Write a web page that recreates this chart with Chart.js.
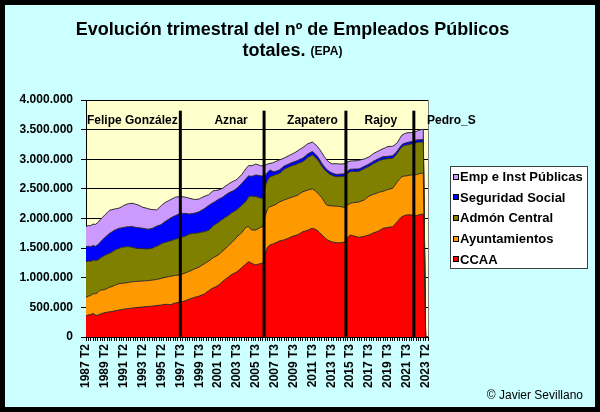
<!DOCTYPE html>
<html>
<head>
<meta charset="utf-8">
<script src="https://cdn.jsdelivr.net/npm/chart.js@4.4.0/dist/chart.umd.min.js"></script>
<style>
  html, body { margin: 0; padding: 0; background: #fff; }
  canvas { display: block; }
</style>
</head>
<body>
<canvas id="empleo-chart" width="600" height="412"></canvas>
<script>
// miles de personas, datos trimestrales EPA (146 trimestres, el ultimo vacio)
const ccaa = [
  354, 372, 380, 395, 370, 365, 385, 400, 410, 418,
  425, 430, 440, 446, 455, 462, 470, 474, 480, 486,
  490, 494, 500, 502, 505, 511, 515, 517, 520, 526,
  530, 536, 540, 548, 552, 548, 545, 565, 575, 582,
  590, 600, 610, 626, 640, 655, 670, 678, 690, 708,
  720, 752, 780, 806, 830, 848, 870, 905, 940, 972,
  1000, 1032, 1060, 1078, 1100, 1135, 1170, 1205, 1240, 1271,
  1250, 1230, 1215, 1228, 1240, 1244, 1413, 1520, 1553, 1566,
  1582, 1600, 1620, 1628, 1640, 1655, 1670, 1690, 1705, 1715,
  1730, 1755, 1778, 1788, 1800, 1820, 1835, 1822, 1800, 1765,
  1722, 1685, 1650, 1625, 1610, 1598, 1592, 1590, 1592, 1598,
  1610, 1680, 1722, 1712, 1700, 1688, 1683, 1692, 1700, 1712,
  1722, 1740, 1760, 1772, 1790, 1812, 1835, 1842, 1850, 1855,
  1862, 1900, 1947, 1995, 2031, 2050, 2059, 2062, 2059, 2052,
  2048, 2060, 2071, 2075, 0, 0
];
const ayuntamientos = [
  316, 318, 320, 335, 360, 385, 405, 395, 390, 402,
  415, 422, 430, 438, 445, 442, 440, 441, 440, 443,
  445, 442, 440, 441, 440, 437, 435, 438, 440, 441,
  440, 445, 450, 455, 458, 470, 480, 470, 465, 462,
  460, 465, 470, 470, 470, 475, 480, 486, 490, 500,
  510, 505, 500, 505, 510, 512, 514, 512, 510, 518,
  525, 532, 540, 565, 590, 590, 590, 605, 620, 590,
  560, 575, 591, 600, 610, 618, 637, 645, 647, 646,
  646, 652, 660, 667, 673, 672, 670, 667, 664, 667,
  670, 672, 675, 678, 680, 672, 665, 650, 636, 632,
  628, 600, 578, 592, 605, 612, 619, 614, 608, 593,
  579, 550, 535, 552, 570, 586, 601, 607, 613, 635,
  658, 654, 650, 650, 650, 638, 625, 632, 640, 644,
  648, 662, 675, 675, 675, 668, 661, 668, 676, 684,
  692, 692, 692, 690, 0, 0
];
const admonCentral = [
  601, 590, 575, 568, 560, 550, 540, 560, 580, 576,
  573, 582, 590, 595, 600, 605, 610, 608, 605, 590,
  575, 565, 555, 550, 545, 540, 535, 537, 540, 550,
  560, 572, 585, 588, 590, 595, 600, 605, 610, 620,
  630, 625, 620, 625, 630, 615, 600, 590, 580, 562,
  545, 532, 520, 530, 540, 543, 546, 543, 540, 528,
  515, 508, 500, 480, 460, 460, 460, 450, 440, 505,
  570, 567, 564, 530, 495, 483, 500, 485, 506, 506,
  507, 494, 480, 498, 517, 524, 530, 530, 531, 530,
  530, 518, 507, 528, 550, 560, 572, 568, 564, 547,
  530, 546, 562, 541, 520, 508, 495, 502, 510, 520,
  531, 532, 533, 529, 525, 520, 516, 522, 527, 513,
  500, 510, 520, 525, 530, 535, 540, 530, 520, 513,
  506, 492, 478, 492, 507, 513, 520, 521, 523, 532,
  540, 534, 527, 525, 0, 0
];
const seguridadSocial = [
  254, 252, 250, 245, 240, 255, 270, 285, 300, 318,
  337, 338, 340, 338, 335, 332, 330, 333, 337, 344,
  350, 350, 350, 348, 345, 340, 335, 332, 330, 335,
  340, 332, 325, 342, 360, 372, 385, 392, 400, 404,
  408, 396, 385, 360, 336, 338, 340, 348, 355, 370,
  385, 402, 420, 405, 390, 390, 390, 380, 370, 375,
  380, 370, 360, 360, 360, 365, 370, 375, 380, 355,
  330, 348, 365, 370, 375, 372, 170, 130, 113, 80,
  55, 58, 60, 58, 55, 52, 50, 52, 55, 55,
  55, 58, 60, 60, 60, 59, 58, 56, 55, 52,
  50, 45, 40, 40, 40, 40, 39, 40, 40, 40,
  40, 40, 40, 40, 40, 40, 40, 40, 40, 40,
  40, 40, 40, 42, 40, 43, 45, 42, 40, 42,
  44, 42, 40, 38, 37, 38, 40, 40, 39, 42,
  45, 42, 40, 40, 0, 0
];
const empInstPublicas = [
  340, 348, 355, 362, 370, 375, 380, 380, 380, 385,
  390, 375, 360, 350, 340, 355, 370, 380, 388, 392,
  395, 390, 385, 370, 355, 352, 350, 335, 320, 298,
  275, 298, 320, 320, 320, 315, 310, 310, 310, 298,
  287, 281, 275, 270, 264, 247, 230, 222, 215, 212,
  210, 195, 180, 190, 200, 180, 160, 155, 150, 150,
  150, 155, 160, 155, 150, 150, 150, 160, 170, 175,
  180, 182, 185, 178, 170, 175, 180, 140, 111, 140,
  165, 168, 170, 152, 135, 138, 140, 142, 145, 155,
  165, 172, 180, 175, 170, 165, 160, 162, 165, 172,
  180, 170, 160, 155, 150, 165, 180, 175, 170, 170,
  170, 155, 140, 140, 140, 142, 145, 135, 125, 122,
  120, 125, 130, 130, 130, 132, 135, 150, 165, 162,
  160, 150, 140, 150, 160, 162, 165, 159, 153, 149,
  145, 158, 170, 175, 0, 0
];
const tickLabels = [
  "1987 T2", "1989 T2", "1991 T2", "1993 T2", "1995 T2", "1997 T3", "1999 T3",
  "2001 T3", "2003 T3", "2005 T3", "2007 T3", "2009 T3", "2011 T3", "2013 T3",
  "2015 T3", "2017 T3", "2019 T3", "2021 T3", "2023 T2"
];
const seriesNames = ["CCAA", "Ayuntamientos", "Admón Central", "Seguridad Social", "Emp e Inst Públicas"];
const seriesColors = ["#FF0000", "#FF9900", "#808000", "#0000FF", "#CC99FF"];
const presidents = ["Felipe González", "Aznar", "Zapatero", "Rajoy", "Pedro_S"];
// trimestre (indice) en que cambia el gobierno
const govChanges = [40, 75.5, 110.2, 139];

const FONT = "'Liberation Sans', Arial, sans-serif";
Chart.defaults.font.family = FONT;
Chart.defaults.color = "#000";

const quarters = ccaa.map((_, i) => i);
const allSeries = [ccaa, ayuntamientos, admonCentral, seguridadSocial, empInstPublicas];

const fmt = v => String(v * 1000).replace(/\B(?=(\d{3})+(?!\d))/g, ".");

const decor = {
  id: "decor",
  beforeDraw(chart) {
    const { ctx, chartArea: a } = chart;
    ctx.save();
    ctx.fillStyle = "#CCFFFF";
    ctx.fillRect(0, 0, chart.width, chart.height);
    ctx.fillStyle = "#FFFFCC";
    ctx.fillRect(a.left, a.top, a.right - a.left, a.bottom - a.top);
    ctx.restore();
  },
  afterDraw(chart) {
    const { ctx, chartArea: a } = chart;
    const xs = chart.scales.x, ys = chart.scales.y;
    ctx.save();

    // plot border (right side)
    ctx.strokeStyle = "#808080";
    ctx.lineWidth = 1;
    ctx.beginPath();
    ctx.moveTo(a.right + 0.5, a.top);
    ctx.lineTo(a.right + 0.5, a.bottom);
    ctx.stroke();

    // president names
    ctx.fillStyle = "#000";
    ctx.font = "bold 12px " + FONT;
    ctx.textBaseline = "middle";
    const ty = ys.getPixelForValue(3645);
    ctx.textAlign = "left";
    ctx.fillText(presidents[0], a.left + 1, ty);
    ctx.textAlign = "center";
    ctx.fillText(presidents[1], xs.getPixelForValue(61.5), ty);
    ctx.fillText(presidents[2], xs.getPixelForValue(96), ty);
    ctx.fillText(presidents[3], xs.getPixelForValue(125), ty);
    ctx.textAlign = "left";
    ctx.fillText(presidents[4], xs.getPixelForValue(144.6), ty);

    // change of government lines
    ctx.strokeStyle = "#000";
    ctx.lineWidth = 3;
    govChanges.forEach(q => {
      const x = xs.getPixelForValue(q);
      ctx.beginPath();
      ctx.moveTo(x, ys.getPixelForValue(3820));
      ctx.lineTo(x, a.bottom);
      ctx.stroke();
    });

    // title
    ctx.fillStyle = "#000";
    ctx.textBaseline = "middle";
    ctx.textAlign = "center";
    ctx.font = "bold 18px " + FONT;
    ctx.fillText("Evolución trimestral del nº de Empleados Públicos", 292.5, 30);
    const t1 = "totales. ", t2 = "(EPA)";
    const w1 = ctx.measureText(t1).width;
    ctx.font = "bold 12px " + FONT;
    const w2 = ctx.measureText(t2).width;
    const sx = 292.5 - (w1 + w2) / 2;
    ctx.textAlign = "left";
    ctx.font = "bold 18px " + FONT;
    ctx.fillText(t1, sx, 51);
    ctx.font = "bold 12px " + FONT;
    ctx.fillText(t2, sx + w1, 52);

    // legend
    ctx.fillStyle = "#fff";
    ctx.fillRect(450.5, 166.5, 137, 102);
    ctx.strokeStyle = "#404040";
    ctx.lineWidth = 1;
    ctx.strokeRect(450.5, 166.5, 137, 102);
    ctx.font = "bold 13px " + FONT;
    ctx.textBaseline = "middle";
    for (let k = 0; k < 5; k++) {
      const d = chart.data.datasets[4 - k];
      const cy = 177.5 + k * 20.7;
      ctx.fillStyle = d.backgroundColor;
      ctx.fillRect(453.5, Math.round(cy) - 3.5, 5, 5);
      ctx.strokeStyle = "#000";
      ctx.strokeRect(453.5, Math.round(cy) - 3.5, 5, 5);
      ctx.fillStyle = "#000";
      ctx.fillText(d.label, 460, cy);
    }

    // copyright
    ctx.font = "12px " + FONT;
    ctx.textAlign = "right";
    ctx.fillText("© Javier Sevillano", 583, 396);

    // outer frame
    ctx.strokeStyle = "#000";
    ctx.lineWidth = 5;
    ctx.strokeRect(2.5, 2.5, chart.width - 5, chart.height - 5);
    ctx.restore();
  }
};

new Chart(document.getElementById("empleo-chart").getContext("2d"), {
  type: "line",
  data: {
    labels: quarters,
    datasets: allSeries.map((data, i) => ({
      label: seriesNames[i],
      data: data,
      backgroundColor: seriesColors[i],
      borderColor: "#2a2a2a",
      borderWidth: 1,
      fill: i === 0 ? "origin" : "-1",
      pointRadius: 0,
      tension: 0
    }))
  },
  options: {
    responsive: false,
    animation: false,
    devicePixelRatio: 1,
    layout: { padding: { left: 0, top: 100, right: 172, bottom: 13 } },
    plugins: {
      legend: { display: false },
      title: { display: false },
      tooltip: { enabled: false }
    },
    scales: {
      x: {
        type: "category",
        offset: false,
        grid: { drawOnChartArea: false, tickLength: 4, color: "#000" },
        border: { display: true, color: "#000" },
        ticks: {
          autoSkip: false,
          minRotation: 90,
          maxRotation: 90,
          padding: 3,
          font: { size: 12, weight: "bold" },
          callback: (v, i) => (i % 8 === 0 ? tickLabels[i / 8] : "")
        },
        afterFit: s => { s.height = 62; }
      },
      y: {
        stacked: true,
        min: 0,
        max: 4000,
        grid: { color: "#000", tickLength: 5, tickColor: "#000" },
        border: { display: true, color: "#000" },
        ticks: {
          stepSize: 500,
          padding: 8,
          font: { size: 12, weight: "bold" },
          callback: v => fmt(v)
        },
        afterFit: s => { s.width = 86; }
      }
    }
  },
  plugins: [decor]
});
</script>
</body>
</html>
